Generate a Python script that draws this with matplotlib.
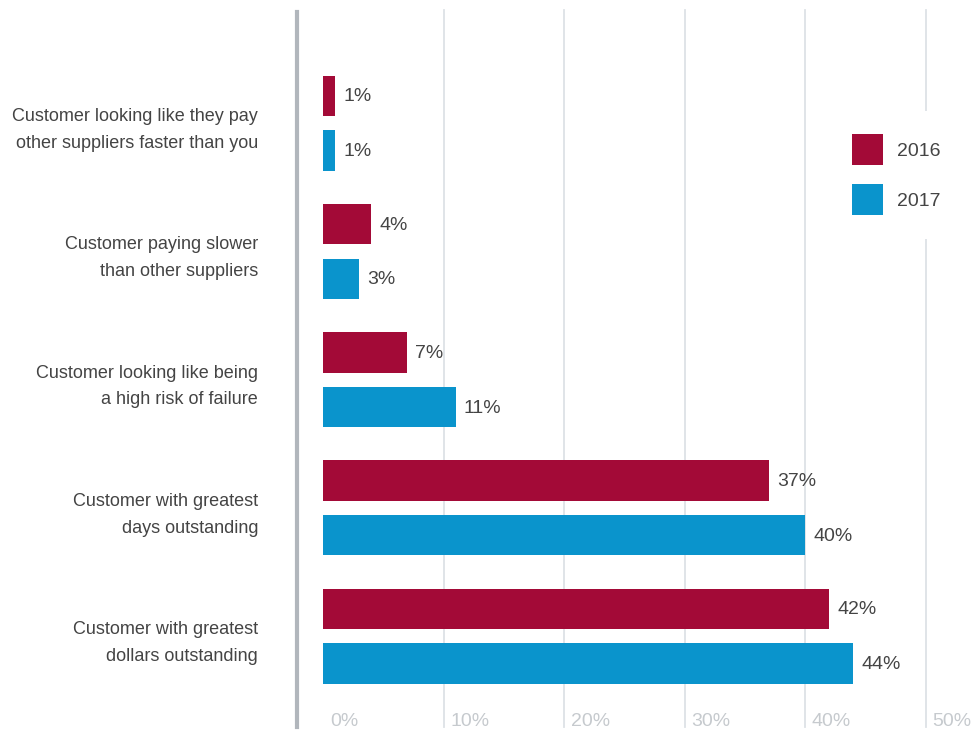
import matplotlib.pyplot as plt
import numpy as np
from matplotlib.patches import Patch
from matplotlib.transforms import offset_copy

categories = [
    "Customer looking like they pay\nother suppliers faster than you",
    "Customer paying slower\nthan other suppliers",
    "Customer looking like being\na high risk of failure",
    "Customer with greatest\ndays outstanding",
    "Customer with greatest\ndollars outstanding",
]
values_2016 = [1, 4, 7, 37, 42]
values_2017 = [1, 3, 11, 40, 44]
x_ticks = [0, 10, 20, 30, 40, 50]

red = "#A30A37"
blue = "#0A94CC"
text_color = "#444444"

plt.rcParams["font.family"] = ["Liberation Sans", "DejaVu Sans"]

fig = plt.figure(figsize=(9.74, 7.31), dpi=100)
ax = fig.add_axes([297 / 974, 1 - 727 / 731, 1 - 297 / 974, (727 - 12) / 731])

y = np.arange(len(categories))
h = 0.315
off = 0.213
ax.barh(y - off, values_2016, height=h, color=red, zorder=3)
ax.barh(y + off, values_2017, height=h, color=blue, zorder=3)

# value labels just past the bar ends
lab_tr = offset_copy(ax.transData, fig=fig, x=8, y=-1, units="dots")
for i in range(len(categories)):
    ax.text(values_2016[i], y[i] - off, f"{values_2016[i]}%", transform=lab_tr,
            ha="left", va="center", fontsize=14, color=text_color)
    ax.text(values_2017[i], y[i] + off, f"{values_2017[i]}%", transform=lab_tr,
            ha="left", va="center", fontsize=14, color=text_color)

px_per_pct = 12.05
zero_px = 323
ax.set_xlim((297 - zero_px) / px_per_pct, (974 - zero_px) / px_per_pct)
ax.set_ylim(4.709, -0.868)

# vertical gridlines (no line at 0)
for t in x_ticks[1:]:
    ax.axvline(t, ymin=0, ymax=1.003, color="#dde2e6", lw=1.3, zorder=1, clip_on=False)

# tick labels sit inside the plot, right of each gridline
tick_tr = offset_copy(ax.get_xaxis_transform(), fig=fig, x=7, y=0, units="dots")
for t in x_ticks:
    ax.text(t, 0.007, f"{t}%", transform=tick_tr, ha="left", va="center",
            fontsize=14, color="#c6cace")

ax.set_xticks([])
ax.set_yticks(y)
ax.set_yticklabels(categories, fontsize=13, color=text_color, linespacing=1.75)
ax.tick_params(axis="y", length=0, pad=28)

for s in ["top", "right", "bottom"]:
    ax.spines[s].set_visible(False)
ax.spines["left"].set_color("#b1b6bc")
ax.spines["left"].set_linewidth(3)

handles = [Patch(facecolor=red, edgecolor="none", label="2016"),
           Patch(facecolor=blue, edgecolor="none", label="2017")]
leg = fig.legend(handles=handles, loc="upper left",
                 bbox_to_anchor=(829 / 974, 1 - 111 / 731), borderaxespad=0,
                 frameon=True, fancybox=False, facecolor="white", edgecolor="none",
                 framealpha=1, fontsize=14, handlelength=1.6, handleheight=2.08,
                 handletextpad=0.7, labelspacing=0.98, borderpad=1.2)
for txt in leg.get_texts():
    txt.set_color(text_color)

fig.savefig("out.png", dpi=100)
